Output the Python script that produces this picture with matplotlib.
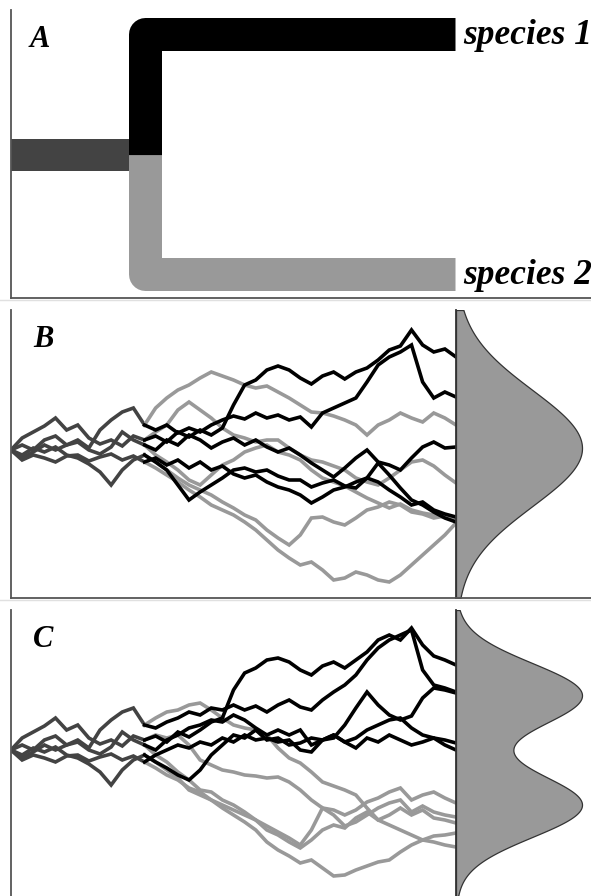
import numpy as np
import matplotlib
matplotlib.use("Agg")
import matplotlib.pyplot as plt

# ---------------- data ----------------
T_ANC = [0, 2.5, 5, 7.5, 10, 12.5, 15, 17.5, 20, 22.5, 25, 27.5, 30]
T_DESC = [30, 32.5, 35, 37.5, 40, 42.5, 45, 47.5, 50, 52.5, 55, 57.5, 60, 62.5,
          65, 67.5, 70, 72.5, 75, 77.5, 80, 82.5, 85, 87.5, 90, 92.5, 95, 97.5, 100]

# ancestral lineages (shared by panels B and C)
anc1 = [0, 12, 18, 24, 32, 20, 25, 12, 6, 10, 4, 14, 10]
anc2 = [0, -5, 2, -2, 3, -5, -8, -14, -22, -35, -20, -10, -5]
anc3 = [0, -8, -2, 5, 0, 5, 10, 2, 20, 30, 38, 42, 25]
anc4 = [0, 5, 0, 10, 14, 5, 8, 0, -4, 3, 18, 10, 5]
anc5 = [0, -10, -5, -8, -12, -6, -5, -11, -7, -4, -10, -6, -12]

# panel B: species 1 (black)
b_sp1_1 = [10, 14, 8, 18, 13, 20, 15, 22, 45, 65, 70, 80, 84, 80, 72, 66, 74, 78, 71, 78, 82, 90, 100, 104, 120, 105, 98, 101, 93]
b_sp1_2 = [25, 20, 25, 17, 22, 18, 25, 30, 34, 31, 37, 32, 35, 30, 33, 23, 37, 42, 47, 52, 68, 85, 93, 98, 105, 68, 52, 58, 53]
b_sp1_3 = [5, 0, 10, 5, 15, 10, 2, 8, 12, 5, 10, 3, -2, 2, -5, -13, -20, -27, -18, -8, 0, -12, -15, -20, -8, 3, 8, 2, 3]
b_sp1_4 = [-5, -12, -20, -35, -50, -42, -35, -28, -20, -18, -22, -20, -26, -30, -30, -37, -33, -30, -36, -38, -28, -32, -40, -47, -55, -52, -60, -64, -67]
b_sp1_5 = [-12, -8, -15, -10, -18, -12, -20, -16, -24, -28, -25, -32, -37, -40, -45, -53, -47, -40, -37, -32, -28, -13, -25, -38, -50, -55, -62, -68, -72]
# panel B: species 2 (grey)
b_sp2_1 = [25, 42, 52, 60, 65, 72, 78, 74, 70, 65, 62, 64, 58, 52, 45, 38, 37, 34, 30, 25, 15, 25, 30, 37, 32, 28, 37, 32, 25]
b_sp2_2 = [10, 18, 25, 40, 48, 40, 32, 22, 15, 12, 8, 10, 10, 2, -5, -10, -12, -16, -20, -28, -32, -35, -28, -20, -12, -10, -16, -25, -33]
b_sp2_3 = [5, -5, -12, -20, -30, -35, -25, -15, -10, -2, 2, 5, -2, -5, -10, -20, -28, -32, -36, -42, -48, -53, -58, -54, -60, -63, -65, -67, -68]
b_sp2_4 = [-5, -12, -20, -28, -35, -40, -45, -52, -58, -65, -70, -80, -88, -95, -85, -68, -67, -72, -75, -68, -60, -57, -52, -55, -62, -64, -68, -66, -70]
b_sp2_5 = [-12, -18, -25, -32, -40, -47, -55, -60, -65, -72, -80, -90, -100, -108, -115, -112, -120, -130, -128, -122, -125, -130, -132, -125, -115, -105, -95, -85, -73]

# panel C: species 1 (black)
c_sp1_1 = [10, 14, 8, 18, 13, 20, 28, 32, 60, 77, 82, 90, 92, 88, 80, 75, 84, 88, 82, 90, 98, 110, 115, 110, 122, 105, 94, 90, 85]
c_sp1_2 = [25, 22, 28, 32, 38, 35, 42, 40, 45, 40, 44, 38, 45, 50, 43, 40, 50, 58, 65, 75, 90, 102, 110, 115, 120, 80, 65, 62, 58]
c_sp1_3 = [5, 0, 10, 15, 22, 25, 30, 28, 35, 30, 22, 15, 20, 15, 20, 5, 10, 12, 25, 42, 58, 45, 35, 30, 34, 52, 62, 60, 57]
c_sp1_4 = [-5, -12, -18, -25, -30, -20, -5, 5, 15, 12, 20, 10, 12, 5, 7, 12, 10, 15, 8, 12, 20, 25, 30, 32, 22, 15, 12, 10, 7]
c_sp1_5 = [-12, -5, 0, 5, 2, 8, 5, 12, 8, 15, 10, 12, 8, 10, 0, -2, 10, 15, 8, 2, 12, 8, 15, 10, 5, 8, 12, 5, 0]
# panel C: species 2 (grey)
c_sp2_1 = [25, 32, 38, 40, 45, 47, 40, 32, 25, 22, 20, 15, 2, -8, -13, -22, -32, -36, -40, -45, -58, -70, -75, -80, -85, -90, -92, -95, -97]
c_sp2_2 = [10, 15, 12, 15, 5, -10, -15, -20, -22, -25, -26, -28, -27, -32, -40, -50, -58, -60, -65, -60, -52, -48, -42, -38, -50, -45, -42, -48, -53]
c_sp2_3 = [5, -5, -12, -22, -30, -40, -42, -50, -55, -62, -70, -76, -82, -88, -95, -80, -58, -65, -76, -72, -65, -58, -53, -50, -62, -56, -62, -65, -67]
c_sp2_4 = [-5, -12, -20, -28, -40, -45, -50, -58, -65, -72, -80, -92, -100, -106, -113, -110, -118, -126, -125, -120, -116, -112, -110, -102, -95, -90, -86, -85, -83]
c_sp2_5 = [-12, -18, -25, -30, -38, -42, -50, -55, -60, -65, -70, -80, -85, -92, -98, -90, -80, -75, -78, -68, -62, -70, -65, -58, -65, -60, -68, -70, -73]

ANCESTORS = [anc1, anc2, anc3, anc4, anc5]
B_SP1 = [b_sp1_1, b_sp1_2, b_sp1_3, b_sp1_4, b_sp1_5]
B_SP2 = [b_sp2_1, b_sp2_2, b_sp2_3, b_sp2_4, b_sp2_5]
C_SP1 = [c_sp1_1, c_sp1_2, c_sp1_3, c_sp1_4, c_sp1_5]
C_SP2 = [c_sp2_1, c_sp2_2, c_sp2_3, c_sp2_4, c_sp2_5]

# tip-trait distributions (normal components: mean, sd)
B_DENS_MEANS = [2]
B_DENS_SDS = [58]
C_DENS_MEANS = [55, -55]
C_DENS_SDS = [32, 32]

SPECIES_LABELS = ["species 1", "species 2"]
PANEL_LABELS = ["A", "B", "C"]

# ---------------- styling ----------------
W, H = 591, 896
BLACK = "#000000"
GREY = "#999999"
ANC = "#434343"
SPINE = "#555555"

fig = plt.figure(figsize=(W / 100, H / 100), dpi=100)


def add_axes_px(x0, x1, y0, y1):
    return fig.add_axes([x0 / W, 1 - y1 / H, (x1 - x0) / W, (y1 - y0) / H])


def style_spines(ax, left=True, bottom=True):
    for s in ["top", "right"]:
        ax.spines[s].set_visible(False)
    ax.spines["left"].set_visible(left)
    ax.spines["bottom"].set_visible(bottom)
    for s in ["left", "bottom"]:
        ax.spines[s].set_color(SPINE)
        ax.spines[s].set_linewidth(1.3)
    ax.set_xticks([])
    ax.set_yticks([])


label_font = dict(family="Liberation Serif", weight="bold", style="italic")
px2pt = 72 / 100

# ---------------- panel A: tree ----------------
axA = add_axes_px(11, 591, 10, 298)
style_spines(axA)
axA.set_xlim(11, 591)
axA.set_ylim(298, 10)
bw = 33 * px2pt
axA.plot([11, 129], [155, 155], color=ANC, lw=32 * px2pt, solid_capstyle="butt")
axA.plot([144.5, 144.5, 455], [155, 34.5, 34.5], color=BLACK, lw=bw,
         solid_capstyle="butt", solid_joinstyle="round")
axA.plot([144.5, 144.5, 455], [155, 274.5, 274.5], color=GREY, lw=bw,
         solid_capstyle="butt", solid_joinstyle="round")
axA.text(463, 44, SPECIES_LABELS[0], fontsize=25.5, ha="left", va="baseline", **label_font)
axA.text(463, 284, SPECIES_LABELS[1], fontsize=25.5, ha="left", va="baseline", **label_font)
axA.text(30, 47, PANEL_LABELS[0], fontsize=22, ha="left", va="baseline", **label_font)


# ---------------- panels B and C ----------------
def draw_panel(y_top, y_bot, sp1, sp2, means, sds, label, ylim, bottom_spine=True):
    ax = add_axes_px(11, 456, y_top, y_bot)
    style_spines(ax, bottom=bottom_spine)
    ax.set_xlim(0, 100)
    ax.set_ylim(*ylim)
    lw = 3.6 * px2pt
    for a in ANCESTORS:
        ax.plot(T_ANC, a, color=ANC, lw=lw, solid_joinstyle="miter")
    for p in sp2:
        ax.plot(T_DESC, p, color=GREY, lw=lw, solid_joinstyle="miter")
    for p in sp1:
        ax.plot(T_DESC, p, color=BLACK, lw=lw, solid_joinstyle="miter")
    ax.text(0.05, 1 - 37 / (y_bot - y_top), label, transform=ax.transAxes,
            fontsize=22, ha="left", va="baseline", **label_font)

    axd = add_axes_px(456, 591, y_top, y_bot)
    style_spines(axd, bottom=bottom_spine)
    axd.spines["left"].set_color("#333333")
    axd.set_ylim(*ylim)
    yy = np.linspace(ylim[0], ylim[1], 600)
    dens = np.zeros_like(yy)
    for m, s in zip(means, sds):
        dens += np.exp(-0.5 * ((yy - m) / s) ** 2)
    dens /= dens.max()
    axd.fill_betweenx(yy, 0, dens, facecolor=GREY, edgecolor="#333333", linewidth=0.9)
    axd.set_xlim(0, 135 / 126)
    return ax


draw_panel(310, 598, B_SP1, B_SP2, B_DENS_MEANS, B_DENS_SDS, PANEL_LABELS[1], (-148, 140))
draw_panel(610, 896, C_SP1, C_SP2, C_DENS_MEANS, C_DENS_SDS, PANEL_LABELS[2], (-146, 140),
           bottom_spine=False)

# faint separators at top of panels B and C
for yy in (300, 600):
    fig.add_artist(plt.Line2D([0, 1], [1 - yy / H, 1 - yy / H], transform=fig.transFigure,
                              color="#e0e0e0", lw=1))

fig.savefig("out.png", dpi=100)
